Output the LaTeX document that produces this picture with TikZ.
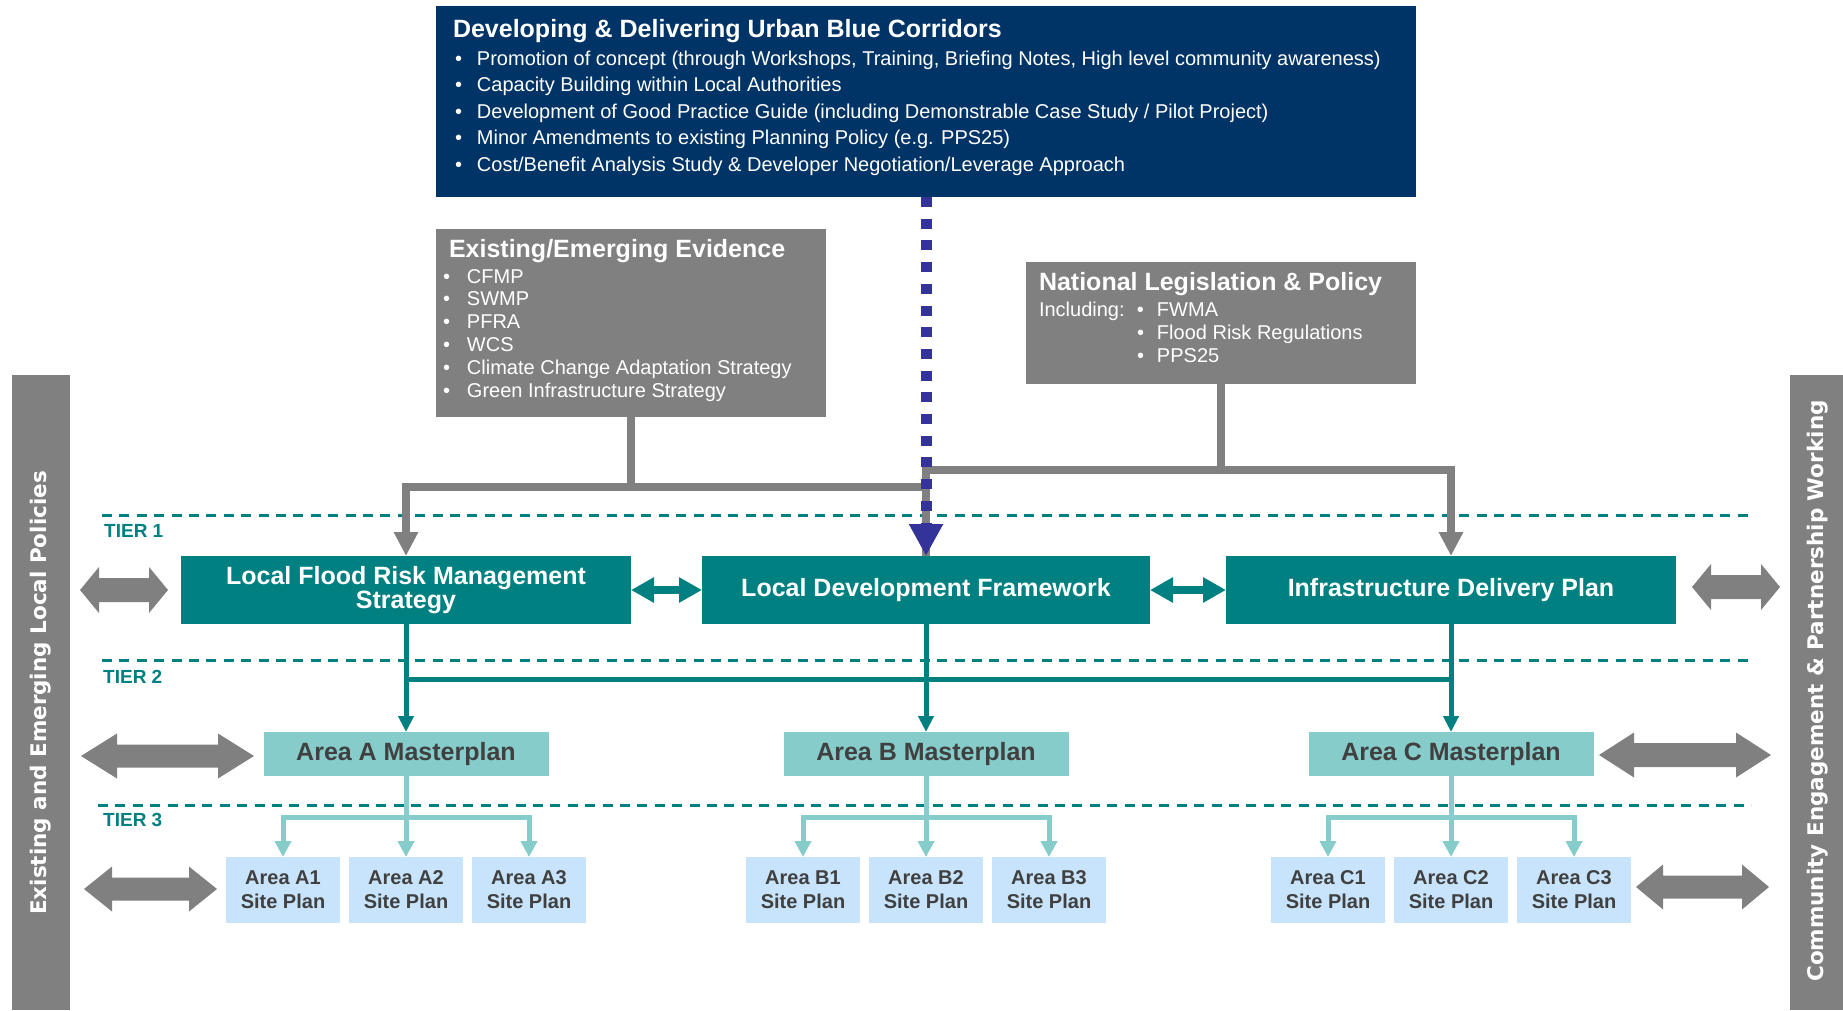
\documentclass[tikz,border=0pt]{standalone}
\usepackage{fontspec}
\setmainfont{Liberation Sans}
\newfontfamily\vfont{DejaVu Sans}
\usetikzlibrary{arrows.meta,calc}
\definecolor{navy}{RGB}{0,51,102}
\definecolor{greyc}{RGB}{128,128,128}
\definecolor{tealc}{RGB}{0,128,128}
\definecolor{lteal}{RGB}{134,204,202}
\definecolor{lblue}{RGB}{200,228,252}
\definecolor{blued}{RGB}{51,51,153}
\definecolor{dtext}{RGB}{64,64,64}
\newcommand\blt[1]{\makebox[#1pt][l]{\textbullet}}
\newcommand\gdarrow[6]{%
  \fill[greyc] (#1,#3) -- (#1+#4,#3-#5) -- (#1+#4,#3-#6) -- (#2-#4,#3-#6) -- (#2-#4,#3-#5) -- (#2,#3)
    -- (#2-#4,#3+#5) -- (#2-#4,#3+#6) -- (#1+#4,#3+#6) -- (#1+#4,#3+#5) -- cycle;}
\begin{document}
\begin{tikzpicture}[x=1pt,y=-1pt,
  box/.style={inner sep=0pt, outer sep=0pt},
  tierone/.style={box, fill=tealc, text=white, minimum width=450pt, minimum height=68pt, align=center,
    font=\bfseries\fontsize{25}{24}\selectfont},
  master/.style={box, fill=lteal, text=dtext, minimum width=285pt, minimum height=44pt,
    font=\bfseries\fontsize{25}{25}\selectfont},
  siteplan/.style={box, fill=lblue, text=dtext, minimum width=114pt, minimum height=66pt, align=center,
    font=\bfseries\fontsize{20}{24}\selectfont},
  txt/.style={inner sep=0pt, outer sep=0pt, anchor=base west, text=white},
  greyconn/.style={draw=greyc, line width=8pt},
  greytip/.style={-{Triangle[length=24pt,width=23pt]}},
  tealconn/.style={draw=tealc, line width=5pt},
  tealtip/.style={-{Triangle[length=16pt,width=15pt]}},
  lconn/.style={draw=lteal, line width=5pt},
  ltip/.style={-{Triangle[length=16pt,width=16pt]}},
  tierline/.style={draw=tealc, line width=3pt, dash pattern=on 10pt off 7.4pt},
  tierlbl/.style={inner sep=0pt, anchor=base west, text=tealc, font=\bfseries\fontsize{19}{19}\selectfont},
  vtext/.style={rotate=90, text=white, inner sep=0pt, font=\vfont\bfseries\fontsize{21.5}{21.5}\selectfont}
]
\useasboundingbox (0,0) rectangle (1843,1010);

% side bars
\node[box, fill=greyc, minimum width=58pt, minimum height=635pt] (lbar) at (41,692.5) {};
\node[vtext] (ltext) at (41,693) {Existing and Emerging Local Policies};
\node[box, fill=greyc, minimum width=53pt, minimum height=635pt] (rbar) at (1816.5,692.5) {};
\node[vtext] (rtext) at (1818,691) {Community Engagement \& Partnership Working};

% tier lines
\draw[tierline] (102,515) -- (1754,515);
\draw[tierline] (102,660) -- (1754,660);
\draw[tierline] (98,805) -- (1751,805);
\node[tierlbl] (t1) at (104,537) {TIER 1};
\node[tierlbl] (t2) at (103,683) {TIER 2};
\node[tierlbl] (t3) at (103,826) {TIER 3};

% top box
\node[box, fill=navy, minimum width=980pt, minimum height=191pt] (top) at (926,101.5) {};
\node[txt, font=\bfseries\fontsize{25}{25}\selectfont] (toptitle) at (453,37) {Developing \& Delivering Urban Blue Corridors};
\node[txt, font=\fontsize{20}{26.6}\selectfont] (toplist) at (455,65) {\begin{tabular}[t]{@{}l@{}}
\blt{22}Promotion of concept (through Workshops, Training, Briefing Notes, High level community awareness)\\
\blt{22}Capacity Building within Local Authorities\\
\blt{22}Development of Good Practice Guide (including Demonstrable Case Study / Pilot Project)\\
\blt{22}Minor Amendments to existing Planning Policy (e.g. PPS25)\\
\blt{22}Cost/Benefit Analysis Study \& Developer Negotiation/Leverage Approach
\end{tabular}};

% evidence box
\node[box, fill=greyc, minimum width=390pt, minimum height=188pt] (ev) at (631,323) {};
\node[txt, font=\bfseries\fontsize{25}{25}\selectfont] (evtitle) at (449,257) {Existing/Emerging Evidence};
\node[txt, font=\fontsize{20}{22.8}\selectfont] (evlist) at (443,283) {\begin{tabular}[t]{@{}l@{}}
\blt{24}CFMP\\
\blt{24}SWMP\\
\blt{24}PFRA\\
\blt{24}WCS\\
\blt{24}Climate Change Adaptation Strategy\\
\blt{24}Green Infrastructure Strategy
\end{tabular}};

% national box
\node[box, fill=greyc, minimum width=390pt, minimum height=122pt] (nat) at (1221,323) {};
\node[txt, font=\bfseries\fontsize{25}{25}\selectfont] (nattitle) at (1039,290) {National Legislation \& Policy};
\node[txt, font=\fontsize{20}{23}\selectfont] (natlist) at (1039,316) {\begin{tabular}[t]{@{}l@{}}
\makebox[98pt][l]{Including:}\blt{20}FWMA\\
\hspace*{98pt}\blt{20}Flood Risk Regulations\\
\hspace*{98pt}\blt{20}PPS25
\end{tabular}};

% tier 1
\node[tierone] (lfrms) at (406,590) {Local Flood Risk Management\\Strategy};
\node[tierone, minimum width=448pt] (ldf) at (926,590) {Local Development Framework};
\node[tierone] (idp) at (1451,590) {Infrastructure Delivery Plan};

% tier 2
\node[master] (ma) at (406,754) {Area A Masterplan};
\node[master] (mb) at (926,754) {Area B Masterplan};
\node[master] (mc) at (1451,754) {Area C Masterplan};

% tier 3
\node[siteplan] (a1) at (283,890) {Area A1\\Site Plan};
\node[siteplan] (a2) at (406,890) {Area A2\\Site Plan};
\node[siteplan] (a3) at (529,890) {Area A3\\Site Plan};
\node[siteplan] (b1) at (803,890) {Area B1\\Site Plan};
\node[siteplan] (b2) at (926,890) {Area B2\\Site Plan};
\node[siteplan] (b3) at (1049,890) {Area B3\\Site Plan};
\node[siteplan] (c1) at (1328,890) {Area C1\\Site Plan};
\node[siteplan] (c2) at (1451,890) {Area C2\\Site Plan};
\node[siteplan] (c3) at (1574,890) {Area C3\\Site Plan};

% grey connectors
\coordinate (ej) at (ev.south |- 0,487);
\coordinate (nj) at (nat.south |- 0,470);
\draw[greyconn, greytip] (ev.south) -- (ej) -| (lfrms.north);
\draw[greyconn] (ej) -- (930,487);
\draw[greyconn, greytip] (nat.south) -- (nj) -| (idp.north);
\draw[greyconn] (nj) -| (ldf.north);

% blue dotted
\draw[blued, line width=11pt, dash pattern=on 10pt off 11.7pt, -{Triangle[length=32pt,width=32pt]}] (top.south) -- (ldf.north);

% teal double arrows tier 1
\draw[tealc, line width=8pt, {Triangle[length=23pt,width=24pt]}-{Triangle[length=23pt,width=24pt]}] (lfrms.east) -- (ldf.west);
\draw[tealc, line width=8pt, {Triangle[length=23pt,width=24pt]}-{Triangle[length=23pt,width=24pt]}] (ldf.east) -- (idp.west);

% teal tier 2 connectors
\draw[tealconn, line cap=rect] (lfrms.south |- 0,679) -- (idp.south |- 0,679);
\draw[tealconn, tealtip] (lfrms.south) -- (ma.north);
\draw[tealconn, tealtip] (ldf.south) -- (mb.north);
\draw[tealconn, tealtip] (idp.south) -- (mc.north);

% light teal tier 3 connectors
\coordinate (aj) at (ma.south |- 0,817);
\coordinate (bj) at (mb.south |- 0,817);
\coordinate (cj) at (mc.south |- 0,817);
\draw[lconn, ltip] (ma.south) -- (aj) -| (a1.north);
\draw[lconn, ltip] (aj) -| (a3.north);
\draw[lconn, ltip] (aj) -- (a2.north);
\draw[lconn, ltip] (mb.south) -- (bj) -| (b1.north);
\draw[lconn, ltip] (bj) -| (b3.north);
\draw[lconn, ltip] (bj) -- (b2.north);
\draw[lconn, ltip] (mc.south) -- (cj) -| (c1.north);
\draw[lconn, ltip] (cj) -| (c3.north);
\draw[lconn, ltip] (cj) -- (c2.north);

% big grey double arrows
\gdarrow{80}{168}{590}{19}{23}{12}
\gdarrow{1692}{1780}{587}{19}{23}{12}
\gdarrow{81}{254}{756}{36}{22.5}{11.5}
\gdarrow{1599}{1771}{755}{35}{22.5}{12}
\gdarrow{84}{217}{889}{28}{22.5}{11.5}
\gdarrow{1636}{1769}{887}{27}{22.5}{11.5}
\end{tikzpicture}
\end{document}
